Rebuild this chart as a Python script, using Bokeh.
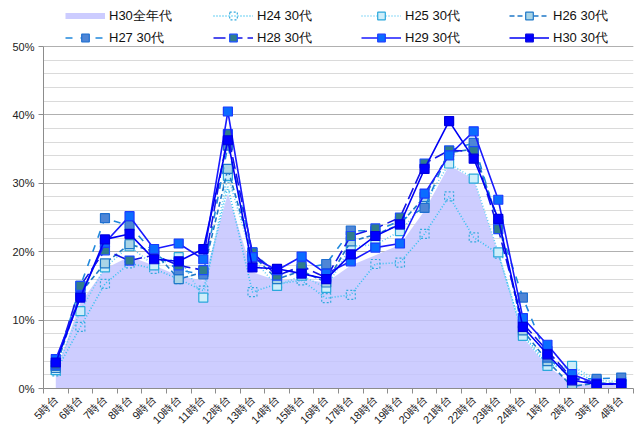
from bokeh.plotting import figure
from bokeh.models import (ColumnDataSource, Legend, LegendItem, FixedTicker,
                          SingleIntervalTicker, PrintfTickFormatter, Range1d)
from bokeh.embed import file_html
from bokeh.resources import INLINE

hours = ["5時台", "6時台", "7時台", "8時台", "9時台", "10時台", "11時台", "12時台",
         "13時台", "14時台", "15時台", "16時台", "17時台", "18時台", "19時台", "20時台",
         "21時台", "22時台", "23時台", "24時台", "1時台", "2時台", "3時台", "4時台"]

all_ages_h30 = [2.4, 12.5, 17.5, 19.3, 18.0, 16.5, 15.8, 28.5, 17.0, 15.8, 16.0, 15.5,
                18.0, 19.5, 21.0, 26.0, 32.6, 30.6, 19.8, 7.5, 3.2, 0.8, 0.5, 0.5]
h24 = [2.5, 9.0, 15.3, 18.3, 17.5, 16.0, 14.3, 29.5, 14.1, 15.3, 15.8, 13.2,
       13.7, 18.2, 18.4, 22.6, 28.1, 22.1, 19.7, 8.0, 3.5, 2.8, 0.8, 0.6]
h25 = [2.7, 11.3, 17.7, 20.8, 18.0, 19.2, 13.3, 31.1, 19.0, 15.0, 16.5, 14.7,
       20.8, 21.0, 23.0, 27.0, 32.9, 30.7, 19.9, 7.7, 3.3, 3.3, 1.2, 1.0]
h26 = [3.0, 14.0, 18.3, 21.1, 20.0, 16.0, 17.0, 32.1, 19.5, 16.0, 17.2, 15.5,
       21.5, 22.5, 24.0, 28.0, 34.5, 35.0, 24.5, 8.5, 4.0, 0.3, 0.8, 0.7]
h27 = [3.3, 15.0, 24.9, 23.8, 19.8, 17.3, 16.7, 35.5, 19.9, 16.8, 17.5, 18.2,
       23.1, 23.0, 24.5, 26.4, 34.8, 35.9, 24.0, 13.3, 4.5, 1.5, 1.4, 1.6]
h28 = [3.5, 15.0, 20.2, 18.7, 19.5, 18.0, 17.3, 37.2, 19.9, 16.5, 17.9, 16.2,
       22.3, 23.4, 25.0, 32.9, 34.8, 34.7, 23.3, 9.5, 5.5, 1.5, 0.7, 0.6]
h29 = [4.3, 13.5, 21.3, 25.2, 20.4, 21.2, 18.9, 40.5, 19.2, 17.3, 19.3, 16.8,
       18.6, 20.6, 21.2, 28.5, 34.1, 37.6, 27.6, 10.3, 6.4, 2.1, 0.7, 0.7]
h30 = [3.8, 13.3, 21.8, 22.6, 18.9, 18.6, 20.4, 36.3, 17.7, 17.5, 16.8, 16.0,
       19.6, 22.3, 24.0, 32.1, 39.1, 33.6, 24.8, 9.0, 5.0, 1.2, 0.6, 0.7]

x = list(range(len(hours)))

FONT = "Liberation Sans"
Y_MAX = 50
Y_TOP = 56.73  # frame extends above 50% to hold the legend

p = figure(width=643, height=436, output_backend="svg", toolbar_location=None,
           x_range=Range1d(-0.5, len(hours) - 0.5), y_range=Range1d(0, Y_TOP),
           min_border_left=43, min_border_right=10, min_border_top=0,
           min_border_bottom=48)
p.outline_line_color = None
p.background_fill_color = "white"

# grid
p.xgrid.grid_line_color = None
p.yaxis.ticker = SingleIntervalTicker(interval=10, num_minor_ticks=5)
p.ygrid.ticker = SingleIntervalTicker(interval=10, num_minor_ticks=5)
p.ygrid.bounds = (0, Y_MAX)
p.yaxis.bounds = (0, Y_MAX)
p.ygrid.grid_line_color = "#b0b0b0"
p.ygrid.minor_grid_line_color = "#dadada"

# y axis
p.yaxis.formatter = PrintfTickFormatter(format="%d%%")
p.yaxis.axis_line_color = "#8c8c8c"
p.yaxis.major_tick_line_color = "#8c8c8c"
p.yaxis.major_tick_out = 5
p.yaxis.major_tick_in = 0
p.yaxis.minor_tick_line_color = None
p.yaxis.major_label_text_font = FONT
p.yaxis.major_label_text_font_size = "11px"
p.yaxis.major_label_text_color = "#222222"
p.yaxis.major_label_standoff = 4

# x axis
p.xaxis.ticker = FixedTicker(ticks=x, minor_ticks=[i - 0.5 for i in range(len(hours) + 1)])
p.xaxis.major_label_overrides = {i: h for i, h in enumerate(hours)}
p.xaxis.major_tick_line_color = None
p.xaxis.minor_tick_line_color = "#8c8c8c"
p.xaxis.minor_tick_out = 5
p.xaxis.minor_tick_in = 0
p.xaxis.axis_line_color = "#8c8c8c"
p.xaxis.major_label_orientation = 0.785398
p.xaxis.major_label_text_font = FONT
p.xaxis.major_label_text_font_size = "11px"
p.xaxis.major_label_text_color = "#222222"
p.xaxis.major_label_standoff = 3

src = ColumnDataSource(dict(x=x, all=all_ages_h30, h24=h24, h25=h25, h26=h26,
                            h27=h27, h28=h28, h29=h29, h30=h30))

area = p.varea(x="x", y1=0, y2="all", source=src, fill_color="#c2c2ff", fill_alpha=0.82)
# legend-only stand-in for the area (a thick lavender bar in the legend)
area_key = p.line(x="x", y="all", source=src, line_color="#ccccff", line_width=6,
                  visible=False)

styles = [
    ("h24", "H24 30代", "#33c0f0", "1 2", "white", 0.0, "#33aadd", "2 2"),
    ("h25", "H25 30代", "#66ccf5", "1 2", "#cdeefa", 1.0, "#2aa8dc", "solid"),
    ("h26", "H26 30代", "#1f78c8", "5 3", "#a9d4e6", 1.0, "#1f78c8", "solid"),
    ("h27", "H27 30代", "#2088dc", "7 8", "#4f86d6", 1.0, "#1f6fd0", "solid"),
    ("h28", "H28 30代", "#1414e6", "12 5", "#2f7d8c", 1.0, "#1a4cff", "solid"),
    ("h29", "H29 30代", "#1a1aff", "solid", "#0a6cff", 1.0, "#1a3cff", "solid"),
    ("h30", "H30 30代", "#0000f5", "solid", "#0000ff", 1.0, "#0000e0", "solid"),
]

items = [LegendItem(label="H30全年代", renderers=[area_key])]
for col, label, lc, dash, mf, mfa, ml, mdash in styles:
    ln = p.line(x="x", y=col, source=src, line_color=lc, line_width=1.6, line_dash=dash)
    sc = p.scatter(x="x", y=col, source=src, marker="square", size=9,
                   fill_color=mf, fill_alpha=mfa, line_color=ml, line_width=1.2,
                   line_dash=mdash)
    items.append(LegendItem(label=label, renderers=[ln, sc]))


def make_legend(its, loc):
    return Legend(items=its, orientation="horizontal", location=loc,
                  margin=0, padding=0, spacing=4, glyph_height=19, label_height=19,
                  glyph_width=40, label_standoff=4, label_width=100,
                  label_text_font=FONT, label_text_font_size="13px",
                  label_text_color="#111111", border_line_color=None,
                  background_fill_alpha=0)


p.add_layout(make_legend(items[:4], (22, 363)))
p.add_layout(make_legend(items[4:], (22, 341)))

open("out.html", "w").write(file_html(p, INLINE))
